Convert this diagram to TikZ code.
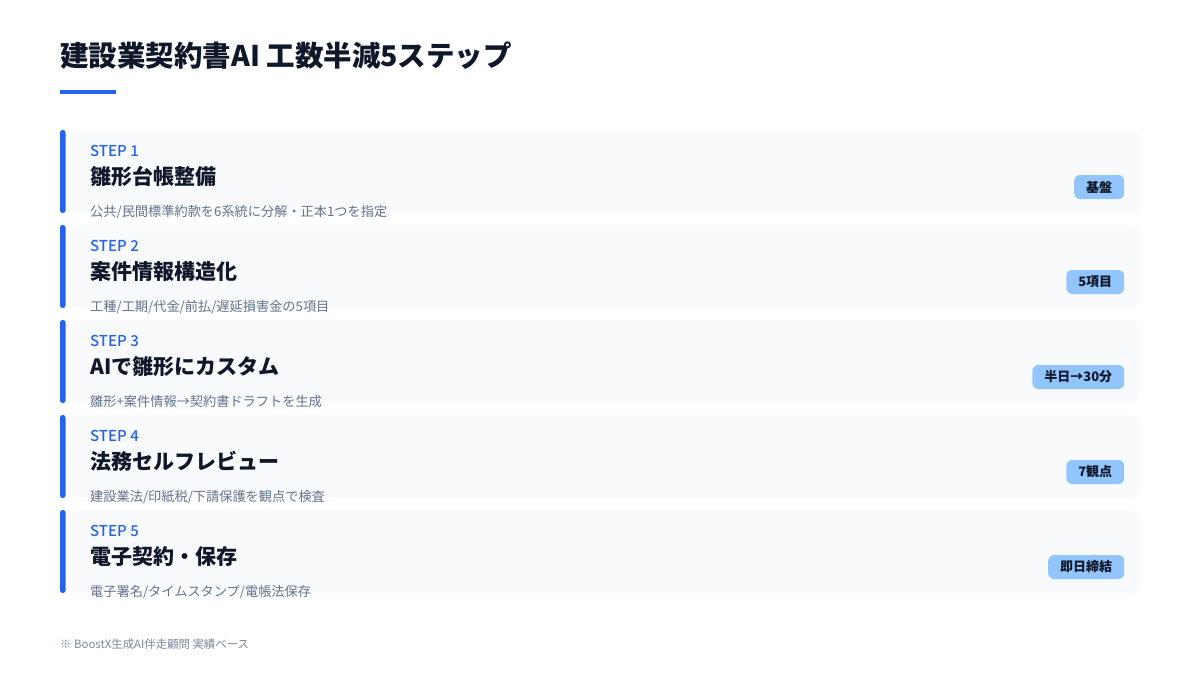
\documentclass[tikz,border=0pt]{standalone}
\usepackage{fontspec}
\setmainfont{Noto Sans CJK JP}
\newfontfamily\medfont{Noto Sans CJK JP}[UprightFont={* Medium}]
\definecolor{stepblue}{HTML}{2563EB}
\definecolor{ink}{HTML}{0F172A}
\definecolor{cardbg}{HTML}{F8FAFC}
\definecolor{descgray}{HTML}{64748B}
\definecolor{notegray}{HTML}{7C8799}
\definecolor{badgeblue}{HTML}{93C5FD}
\tikzset{
  card/.style={fill=cardbg, rounded corners=10pt, minimum width=1070pt, minimum height=83pt, inner sep=0pt},
  steplbl/.style={anchor=base west, inner sep=0pt, text=stepblue, font=\medfont\fontsize{15}{15}\selectfont},
  steptitle/.style={anchor=base west, inner sep=0pt, text=ink, font=\bfseries\fontsize{21}{21}\selectfont},
  stepdesc/.style={anchor=base west, inner sep=0pt, text=descgray, font=\fontsize{13.2}{13.2}\selectfont},
  badge/.style={anchor=east, fill=badgeblue, rounded corners=6pt, minimum height=24pt, inner xsep=12pt, inner ysep=0pt, text=ink, font=\bfseries\fontsize{13}{13}\selectfont}
}

\begin{document}
\begin{tikzpicture}[x=1pt,y=-1pt]
        \useasboundingbox (0,0) rectangle (1200,675);
        % title and underline
        \node[anchor=base west, inner sep=0pt, text=ink, font=\bfseries\fontsize{28.5}{28.5}\selectfont] (title) at (60,66) {建設業契約書AI 工数半減5ステップ};
        \fill[stepblue] (60,90) rectangle (116,94);
        % edit here for the steps
        \foreach \i/\ttl/\desc/\bdg in {
            1/{雛形台帳整備}/{公共/民間標準約款を6系統に分解・正本1つを指定}/{基盤},
            2/{案件情報構造化}/{工種/工期/代金/前払/遅延損害金の5項目}/{5項目},
            3/{AIで雛形にカスタム}/{雛形+案件情報→契約書ドラフトを生成}/{半日→30分},
            4/{法務セルフレビュー}/{建設業法/印紙税/下請保護を観点で検査}/{7観点},
            5/{電子契約・保存}/{電子署名/タイムスタンプ/電帳法保存}/{即日締結}}
        {
        \node[card, anchor=north west] (card\i) at (70,{130+95*(\i-1)}) {};
        \fill[stepblue, rounded corners=2.5pt] (60,{130+95*(\i-1)}) rectangle (65.5,{213+95*(\i-1)});
        \node[steplbl] (lbl\i) at ([xshift=20pt,yshift=-26pt]card\i.north west) {STEP \i};
        \node[steptitle] (ttl\i) at ([xshift=20pt,yshift=-54pt]card\i.north west) {\ttl};
        \node[stepdesc] (desc\i) at ([xshift=20pt,yshift=-86pt]card\i.north west) {\desc};
        \node[badge] (bdg\i) at ([xshift=-16pt,yshift=-57pt]card\i.north east) {\bdg};
        }
        % footnote
        \node[anchor=base west, inner sep=0pt, text=notegray, font=\fontsize{11.4}{11.4}\selectfont] (note) at (60,648) {※ BoostX生成AI伴走顧問 実績ベース};
\end{tikzpicture}
\end{document}
